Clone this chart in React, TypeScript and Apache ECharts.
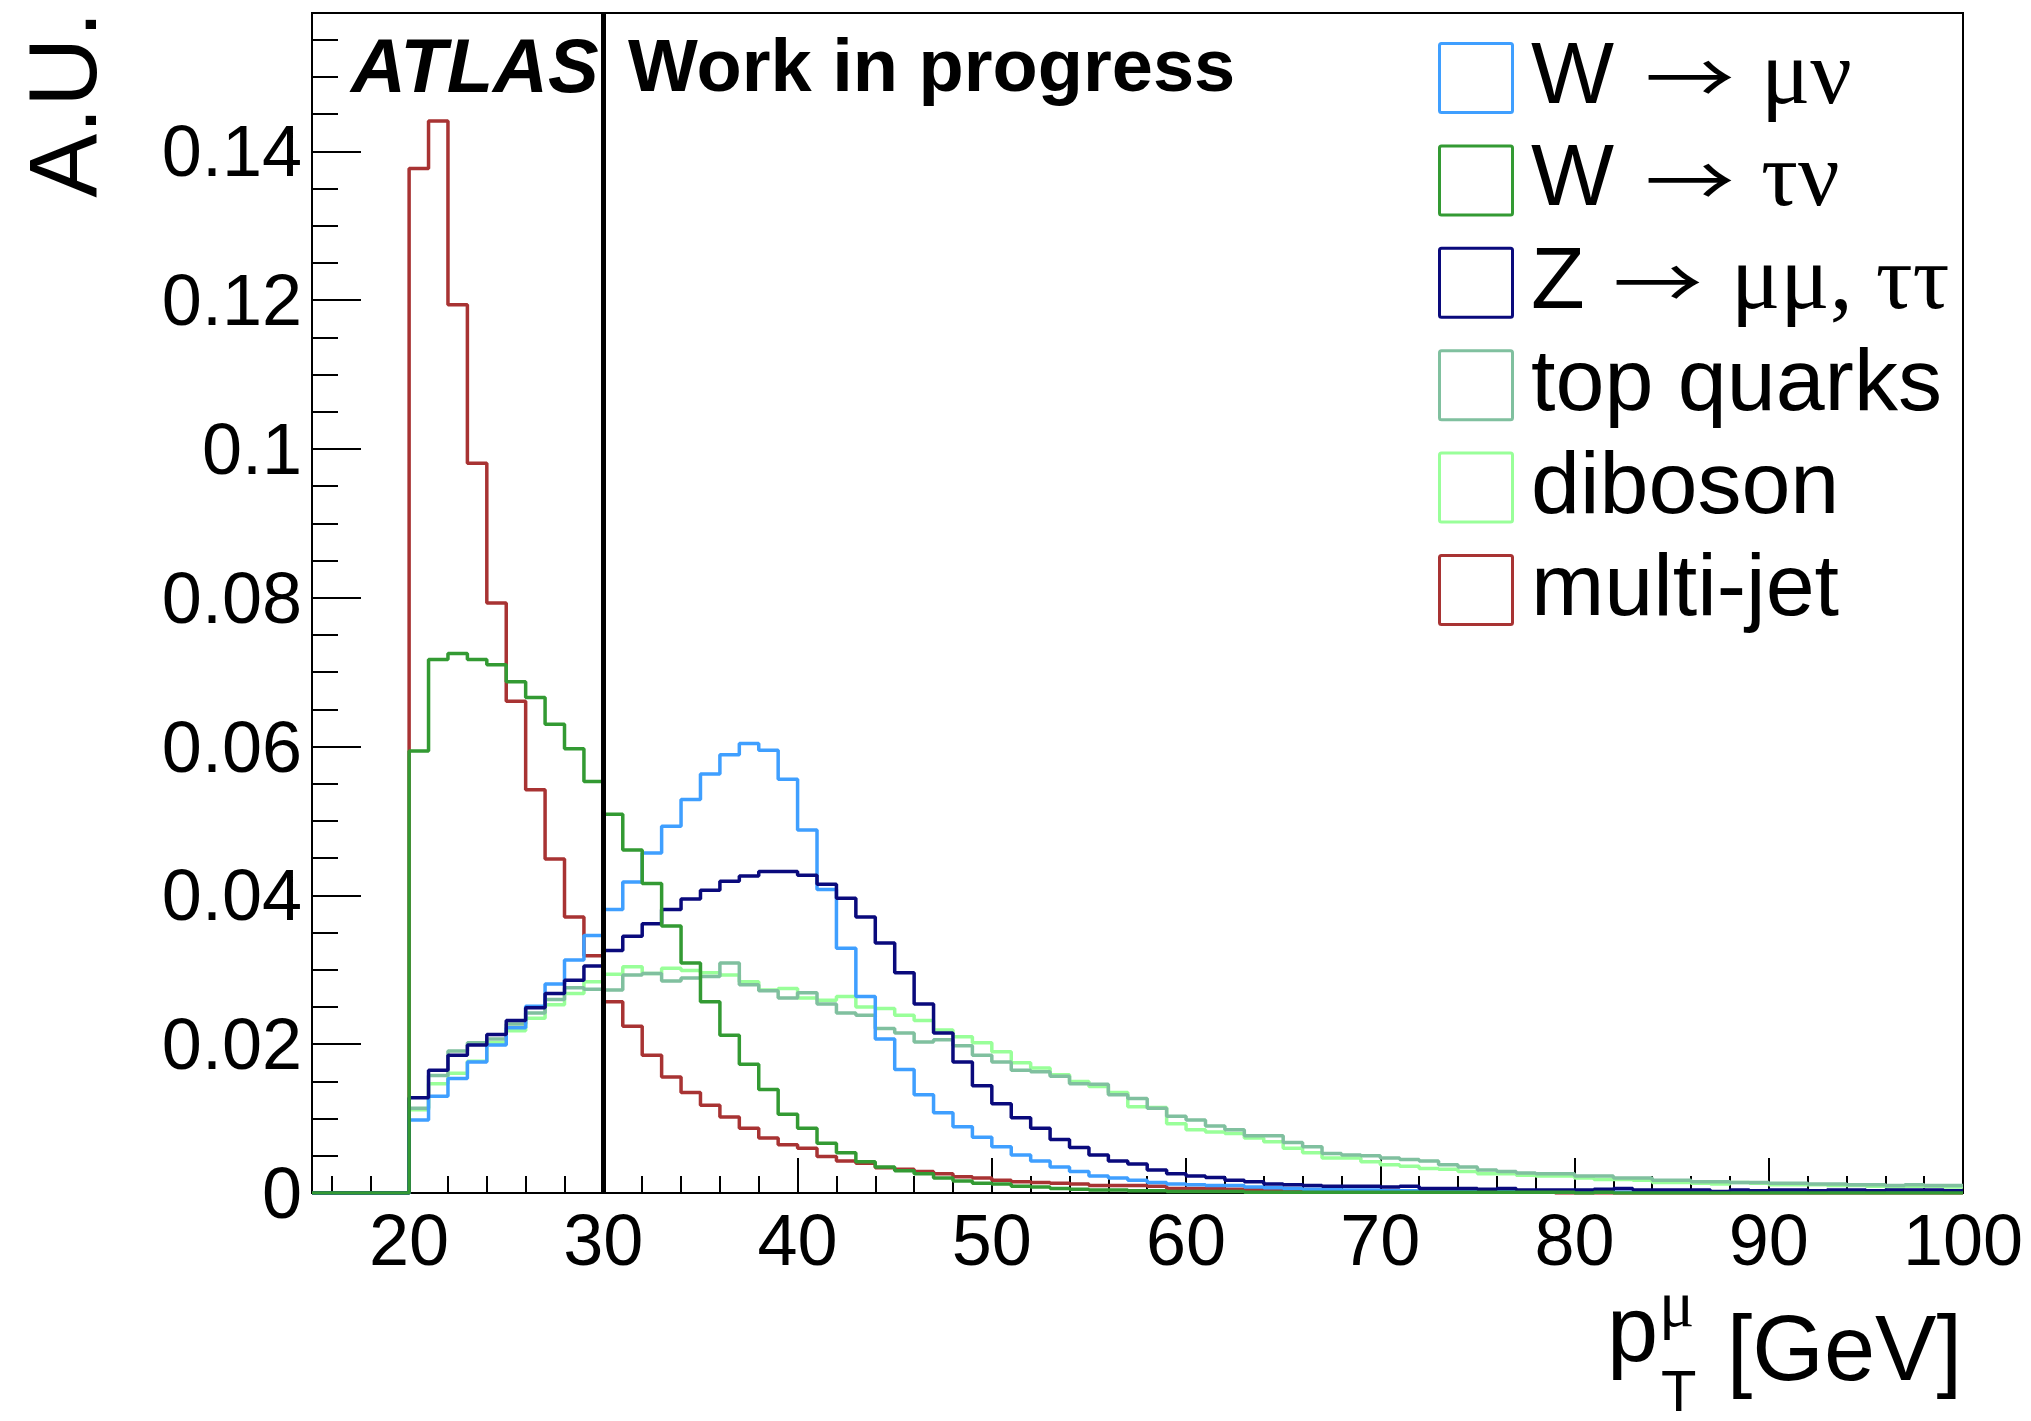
import React, { useEffect, useRef } from "react";
import * as echarts from "echarts";

const W = 2031;
const H = 1421;

const X_MIN = 15;
const X_MAX = 100;
const BIN_WIDTH = 1;
const Y_MAX = 0.1586;

const xMajorTicks = [20, 30, 40, 50, 60, 70, 80, 90, 100];
const xMinorTicks = [16, 18, 22, 24, 26, 28, 32, 34, 36, 38, 42, 44, 46, 48, 52, 54, 56, 58, 62, 64, 66, 68, 72, 74, 76, 78, 82, 84, 86, 88, 92, 94, 96, 98];
const yMajorTicks = [0, 0.02, 0.04, 0.06, 0.08, 0.1, 0.12, 0.14];
const yMinorTicks = [0.005, 0.01, 0.015, 0.025, 0.03, 0.035, 0.045, 0.05, 0.055, 0.065, 0.07, 0.075, 0.085, 0.09, 0.095, 0.105, 0.11, 0.115, 0.125, 0.13, 0.135, 0.145, 0.15, 0.155];

const CUT_VALUE = 30;

// bin contents, bins of 1 GeV from 15 to 100
const wMuNu = [
  0, 0, 0, 0, 0, 0.0098, 0.0130, 0.0154, 0.0176, 0.0199,
  0.0222, 0.0251, 0.0281, 0.0313, 0.0346, 0.0381, 0.0418, 0.0457, 0.0493, 0.0529,
  0.0563, 0.0589, 0.0604, 0.0595, 0.0556, 0.0488, 0.0408, 0.0329, 0.0264, 0.0207,
  0.0166, 0.0132, 0.0108, 0.0089, 0.0075, 0.0062, 0.0051, 0.0043, 0.0035, 0.0029,
  0.0023, 0.0020, 0.0017, 0.0014, 0.0012, 0.0011, 0.0010, 0.0010, 0.0008, 0.0007,
  0.0006, 0.0005, 0.0005, 0.0004, 0.0004, 0.0003, 0.0003, 0.0003, 0.0003, 0.0002,
  0.0002, 0.0002, 0.0002, 0.0002, 0.0001, 0.0001, 0.0002, 0.0001, 0.0001, 0.0001,
  0.0001, 0.0001, 0.0001, 0.0001, 0.0001, 0.0001, 0.0001, 0.0001, 0.0001, 0.0001,
  0.0001, 0.0001, 0.0001, 0.0001, 0.0001,
];
const wTauNu = [
  0, 0, 0, 0, 0, 0.0594, 0.0717, 0.0725, 0.0717, 0.0710,
  0.0687, 0.0666, 0.0630, 0.0597, 0.0553, 0.0509, 0.0461, 0.0416, 0.0359, 0.0309,
  0.0257, 0.0212, 0.0173, 0.0139, 0.0106, 0.0087, 0.0067, 0.0054, 0.0042, 0.0035,
  0.0030, 0.0026, 0.0020, 0.0016, 0.0013, 0.0012, 0.0009, 0.0008, 0.0006, 0.0005,
  0.0004, 0.0004, 0.0003, 0.0003, 0.0002, 0.0002, 0.0002, 0.0002, 0.0001, 0.0001,
  0.0001, 0.0001, 0.0001, 0.0001, 0.0001, 0.0001, 0.0001, 0.0001, 0.0001, 0.0001,
  0.0001, 0.0001, 0.0001, 0.0001, 0.0001, 0, 0.0001, 0, 0, 0,
  0, 0, 0, 0, 0, 0, 0, 0, 0, 0,
  0, 0, 0, 0, 0,
];
const zLL = [
  0, 0, 0, 0, 0, 0.0128, 0.0165, 0.0185, 0.0199, 0.0213,
  0.0232, 0.0249, 0.0268, 0.0286, 0.0305, 0.0326, 0.0345, 0.0362, 0.0381, 0.0395,
  0.0407, 0.0419, 0.0426, 0.0432, 0.0432, 0.0427, 0.0415, 0.0396, 0.0371, 0.0336,
  0.0296, 0.0254, 0.0215, 0.0176, 0.0144, 0.0120, 0.0101, 0.0087, 0.0072, 0.0061,
  0.0051, 0.0043, 0.0039, 0.0031, 0.0026, 0.0023, 0.0021, 0.0017, 0.0015, 0.0012,
  0.0011, 0.0010, 0.0009, 0.0009, 0.0009, 0.0008, 0.0009, 0.0006, 0.0006, 0.0006,
  0.0005, 0.0006, 0.0004, 0.0004, 0.0004, 0.0004, 0.0005, 0.0006, 0.0004, 0.0004,
  0.0004, 0.0004, 0.0002, 0.0004, 0.0003, 0.0004, 0.0004, 0.0003, 0.0004, 0.0004,
  0.0003, 0.0004, 0.0004, 0.0004, 0.0003,
];
const topQuarks = [
  0, 0, 0, 0, 0, 0.0114, 0.0158, 0.0191, 0.0202, 0.0207,
  0.0227, 0.0242, 0.0260, 0.0276, 0.0274, 0.0273, 0.0293, 0.0295, 0.0285, 0.0289,
  0.0291, 0.0309, 0.0280, 0.0272, 0.0262, 0.0269, 0.0254, 0.0242, 0.0239, 0.0221,
  0.0215, 0.0203, 0.0206, 0.0198, 0.0185, 0.0176, 0.0165, 0.0163, 0.0157, 0.0147,
  0.0146, 0.0132, 0.0127, 0.0114, 0.0103, 0.0098, 0.0090, 0.0085, 0.0077, 0.0077,
  0.0068, 0.0062, 0.0053, 0.0051, 0.0050, 0.0047, 0.0045, 0.0043, 0.0038, 0.0035,
  0.0031, 0.0029, 0.0027, 0.0026, 0.0026, 0.0023, 0.0023, 0.0020, 0.0020, 0.0017,
  0.0017, 0.0015, 0.0015, 0.0014, 0.0014, 0.0013, 0.0013, 0.0012, 0.0012, 0.0011,
  0.0011, 0.0010, 0.0011, 0.0010, 0.0010,
];
const diboson = [
  0, 0, 0, 0, 0, 0.0112, 0.0147, 0.0161, 0.0177, 0.0202,
  0.0218, 0.0235, 0.0253, 0.0268, 0.0284, 0.0294, 0.0304, 0.0295, 0.0302, 0.0299,
  0.0296, 0.0293, 0.0284, 0.0273, 0.0275, 0.0262, 0.0259, 0.0264, 0.0250, 0.0248,
  0.0239, 0.0232, 0.0219, 0.0210, 0.0202, 0.0190, 0.0175, 0.0168, 0.0159, 0.0150,
  0.0143, 0.0135, 0.0116, 0.0115, 0.0093, 0.0085, 0.0082, 0.0080, 0.0074, 0.0069,
  0.0060, 0.0054, 0.0047, 0.0047, 0.0042, 0.0038, 0.0036, 0.0033, 0.0032, 0.0029,
  0.0026, 0.0026, 0.0024, 0.0023, 0.0023, 0.0020, 0.0018, 0.0018, 0.0017, 0.0014,
  0.0014, 0.0013, 0.0012, 0.0014, 0.0013, 0.0011, 0.0011, 0.0011, 0.0010, 0.0010,
  0.0009, 0.0008, 0.0009, 0.0009, 0.0008,
];
const multiJet = [
  0, 0, 0, 0, 0, 0.1377, 0.1441, 0.1194, 0.0981, 0.0793,
  0.0661, 0.0542, 0.0449, 0.0371, 0.0319, 0.0257, 0.0224, 0.0185, 0.0156, 0.0135,
  0.0118, 0.0102, 0.0087, 0.0074, 0.0065, 0.0060, 0.0049, 0.0043, 0.0040, 0.0034,
  0.0032, 0.0029, 0.0026, 0.0022, 0.0020, 0.0017, 0.0015, 0.0014, 0.0013, 0.0012,
  0.0010, 0.0010, 0.0010, 0.0009, 0.0006, 0.0006, 0.0006, 0.0005, 0.0005, 0.0003,
  0.0003, 0.0002, 0.0002, 0.0002, 0.0001, 0.0001, 0.0001, 0.0001, 0.0001, 0.0001,
  0.0001, 0.0001, 0.0001, 0.0001, 0, 0, 0, 0, 0, 0,
  0, 0, 0, 0, 0, 0, 0, 0, 0, 0,
  0, 0, 0, 0, 0,
];

const COLORS = {
  wMuNu: "#3f9fff",
  wTauNu: "#339a33",
  zLL: "#0a0a7c",
  top: "#80c09f",
  diboson: "#99ff99",
  multiJet: "#a83333",
};

// legend labels: [plain part, greek part] (greek part empty when none)
const legendLabels = [
  ["W", "\u03bc\u03bd"],
  ["W", "\u03c4\u03bd"],
  ["Z", "\u03bc\u03bc, \u03c4\u03c4"],
  ["top quarks", ""],
  ["diboson", ""],
  ["multi-jet", ""],
];
const legendColors = [COLORS.wMuNu, COLORS.wTauNu, COLORS.zLL, COLORS.top, COLORS.diboson, COLORS.multiJet];

const binLowEdges = wMuNu.map((_, i) => X_MIN + i * BIN_WIDTH);

function histData(values: number[]) {
  const pts: [number, number][] = values.map((v, i) => [binLowEdges[i], v]);
  pts.push([X_MAX, values[values.length - 1]]);
  return pts;
}

const SANS = "Liberation Sans";
const SERIF = "Liberation Serif";
const ARROW_FONT = "Noto Sans CJK JP";

function textEl(x: number, y: number, text: string, extra: any = {}, elExtra: any = {}) {
  const align = extra.align || "left";
  const va = extra.verticalAlign || "middle";
  return {
    type: "text",
    x,
    y,
    silent: true,
    ...elExtra,
    style: {
      text,
      fill: "#000",
      fontFamily: SANS,
      fontSize: 72,
      ...extra,
      align,
      verticalAlign: va,
      textAlign: align,
      textVerticalAlign: va,
    },
  };
}

export default function App() {
  const ref = useRef<HTMLDivElement>(null);

  useEffect(() => {
    if (!ref.current) return;
    const chart = echarts.init(ref.current, null, { renderer: "svg", width: W, height: H });

    const GRID = { left: 312, right: 68, top: 13, bottom: 228 };
    const tickLine = { color: "#000", width: 2 };

    const seriesDefs = [
      { name: "multi-jet", data: multiJet, color: COLORS.multiJet },
      { name: "diboson", data: diboson, color: COLORS.diboson },
      { name: "top quarks", data: topQuarks, color: COLORS.top },
      { name: "W \u2192 \u03bc\u03bd", data: wMuNu, color: COLORS.wMuNu },
      { name: "Z \u2192 \u03bc\u03bc, \u03c4\u03c4", data: zLL, color: COLORS.zLL },
      { name: "W \u2192 \u03c4\u03bd", data: wTauNu, color: COLORS.wTauNu },
    ];

    const series: any[] = seriesDefs.map((s) => ({
      name: s.name,
      type: "line",
      step: "end",
      xAxisIndex: 0,
      yAxisIndex: 0,
      data: histData(s.data),
      showSymbol: false,
      symbol: "none",
      clip: true,
      silent: true,
      lineStyle: { color: s.color, width: 3.5 },
      itemStyle: { color: s.color },
    }));

    series[series.length - 1].markLine = {
      silent: true,
      symbol: ["none", "none"],
      label: { show: false },
      lineStyle: { color: "#000", width: 5, type: "solid" },
      data: [{ xAxis: CUT_VALUE }],
    };

    const LEG_X = 1438;
    const LEG_TOP = 42;
    const LEG_STEP = 102.4;
    const BOX_W = 76;
    const BOX_H = 72;
    const LEG_FS = 88;
    const GREEK_FS = 92;
    const ARROW_FS = 70;

    const graphic: any[] = [];
    legendLabels.forEach((lab, i) => {
      const top = LEG_TOP + i * LEG_STEP;
      const base = top + 61;
      graphic.push({
        type: "rect",
        silent: true,
        shape: { x: LEG_X + 1.5, y: top + 1.5, width: BOX_W - 3, height: BOX_H - 3, r: 2 },
        style: { fill: "none", stroke: legendColors[i], lineWidth: 3 },
      });
      graphic.push(textEl(1531, base - 0.3465 * LEG_FS, lab[0], { fontSize: LEG_FS }));
      if (lab[1]) {
        const isZ = lab[0] === "Z";
        graphic.push(
          textEl(isZ ? 1613 : 1645, base - 29, "\u2192", { fontSize: ARROW_FS, fontFamily: ARROW_FONT }, { scaleX: 1.28 })
        );
        graphic.push(textEl(isZ ? 1731 : 1761, base - 0.3375 * GREEK_FS, lab[1], { fontSize: GREEK_FS, fontFamily: SERIF }));
      }
    });

    // header
    graphic.push(textEl(351, 65, "ATLAS", { fontSize: 76, fontWeight: "bold", fontStyle: "italic" }));
    graphic.push(textEl(628, 65, "Work in progress", { fontSize: 74, fontWeight: "bold" }));

    // y title
    graphic.push(textEl(62, 11, "A.U.", { fontSize: 96, align: "right" }, { rotation: Math.PI / 2 }));

    // x title: p_T^mu [GeV]
    graphic.push(textEl(1607, 1329, "p", { fontSize: 92 }));
    graphic.push(textEl(1659, 1303, "\u03bc", { fontSize: 66, fontFamily: SERIF }));
    graphic.push(textEl(1661, 1390, "T", { fontSize: 58 }));
    graphic.push(textEl(1962, 1348, "[GeV]", { fontSize: 92, align: "right" }));

    const option: any = {
      animation: false,
      backgroundColor: "#fff",
      grid: { ...GRID, show: true, borderColor: "#000", borderWidth: 2, backgroundColor: "transparent", containLabel: false },
      xAxis: [
        {
          type: "value",
          min: X_MIN,
          max: X_MAX,
          position: "bottom",
          axisLine: { show: true, onZero: false, lineStyle: tickLine },
          axisTick: { show: true, inside: true, length: 35, customValues: xMajorTicks, lineStyle: tickLine },
          axisLabel: {
            show: true,
            customValues: xMajorTicks,
            fontSize: 72,
            fontFamily: SANS,
            color: "#000",
            margin: 11,
            formatter: (v: number) => String(v),
          },
          splitLine: { show: false },
          minorTick: { show: false },
        },
        {
          type: "value",
          min: X_MIN,
          max: X_MAX,
          position: "bottom",
          axisLine: { show: false, onZero: false },
          axisTick: { show: true, inside: true, length: 17, customValues: xMinorTicks, lineStyle: tickLine },
          axisLabel: { show: false },
          splitLine: { show: false },
        },
      ],
      yAxis: [
        {
          type: "value",
          min: 0,
          max: Y_MAX,
          position: "left",
          axisLine: { show: true, onZero: false, lineStyle: tickLine },
          axisTick: { show: true, inside: true, length: 49, customValues: yMajorTicks, lineStyle: tickLine },
          axisLabel: {
            show: true,
            customValues: yMajorTicks,
            fontSize: 72,
            fontFamily: SANS,
            color: "#000",
            margin: 10,
            formatter: (v: number) => String(Number(v.toFixed(4))),
          },
          splitLine: { show: false },
        },
        {
          type: "value",
          min: 0,
          max: Y_MAX,
          position: "left",
          axisLine: { show: false, onZero: false },
          axisTick: { show: true, inside: true, length: 26, customValues: yMinorTicks, lineStyle: tickLine },
          axisLabel: { show: false },
          splitLine: { show: false },
        },
      ],
      series,
      graphic,
    };

    chart.setOption(option);
    return () => chart.dispose();
  }, []);

  return (
    <div
      ref={ref}
      style={{ position: "absolute", left: 0, top: 0, width: W, height: H, background: "#fff" }}
    />
  );
}
